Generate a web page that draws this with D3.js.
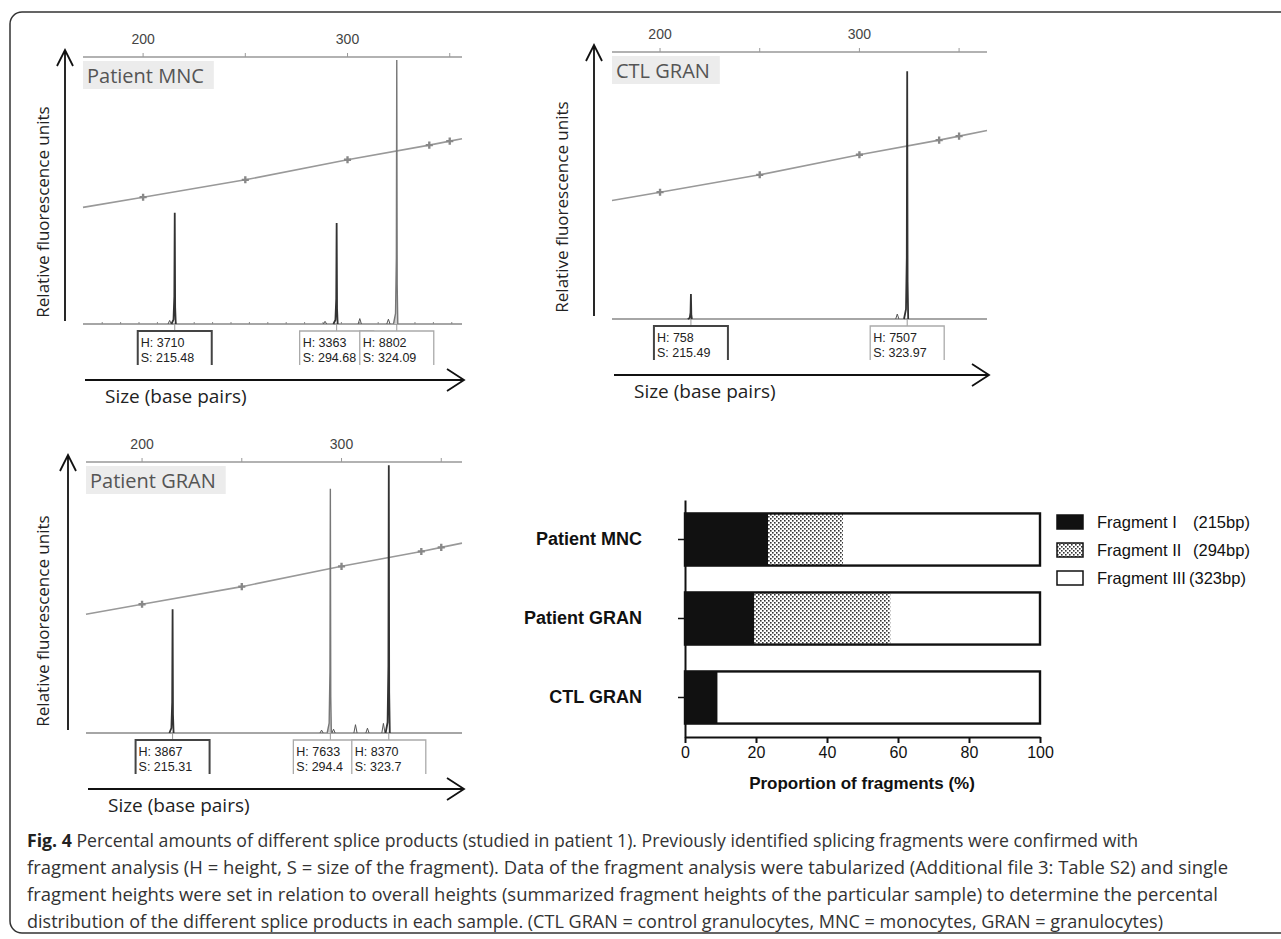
<!DOCTYPE html>
<html>
<head>
<meta charset="utf-8">
<script src="https://d3js.org/d3.v7.min.js"></script>
<style>
  body { margin: 0; background: #fff; }
  svg { display: block; }
</style>
</head>
<body>
<div id="fig"></div>
<script>
// fragment analysis panels
const panelNames = ["Patient MNC", "CTL GRAN", "Patient GRAN"];
const peakSizes = [[215.48, 294.68, 324.09], [215.49, 323.97], [215.31, 294.4, 323.7]];
const peakHeights = [[3710, 3363, 8802], [758, 7507], [3867, 7633, 8370]];
const peakSizeLabels = [["215.48", "294.68", "324.09"], ["215.49", "323.97"], ["215.31", "294.4", "323.7"]];
const minorSizes = [[213, 289, 306, 320], [319], [290, 296, 307, 313, 321]];
const minorHeights = [[120, 90, 180, 160], [150], [90, 120, 260, 150, 300]];
const sizeStdBp = [200, 250, 300, 340, 350];
const sizeStdLevel = [0.475, 0.54, 0.615, 0.67, 0.685];
const sizeTicks = [200, 250, 300, 350];
const sizeTickLabels = [200, 300];

// stacked bar chart
const samples = ["Patient MNC", "Patient GRAN", "CTL GRAN"];
const fragmentNames = ["Fragment I", "Fragment II", "Fragment III"];
const fragmentBp = ["(215bp)", "(294bp)", "(323bp)"];
const fragI = [23.4, 19.5, 9.2];
const fragII = [21.1, 38.4, 0];
const fragIII = [55.5, 42.1, 90.8];
const pctTicks = [0, 20, 40, 60, 80, 100];

const captionLines = [
    "Percental amounts of different splice products (studied in patient 1). Previously identified splicing fragments were confirmed with",
    "fragment analysis (H = height, S = size of the fragment). Data of the fragment analysis were tabularized (Additional file 3: Table S2) and single",
    "fragment heights were set in relation to overall heights (summarized fragment heights of the particular sample) to determine the percental",
    "distribution of the different splice products in each sample. (CTL GRAN = control granulocytes, MNC = monocytes, GRAN = granulocytes)"
];
const captionWidths = [1111, 1201, 1191, 1136];

const WIDTH = 1281;
const HEIGHT = 939;
const SANS = "'Open Sans', 'Noto Sans', sans-serif";
const ARIAL = "'Liberation Sans', Arial, sans-serif";

const svg = d3.select("#fig")
    .append("svg")
    .attr("width", WIDTH)
    .attr("height", HEIGHT);

svg.append("path")
    .attr("d", "M1281,12 H22 A12,12 0 0 0 10,24 V921 A12,12 0 0 0 22,933 H1281")
    .attr("fill", "none")
    .attr("stroke", "#333")
    .attr("stroke-width", 1.5);

const defs = svg.append("defs");
const dots = defs.append("pattern")
    .attr("id", "dots")
    .attr("patternUnits", "userSpaceOnUse")
    .attr("width", 4)
    .attr("height", 4);
dots.append("rect").attr("width", 4).attr("height", 4).attr("fill", "#fff");
dots.append("rect").attr("x", 0).attr("y", 0).attr("width", 1.6).attr("height", 1.6).attr("fill", "#333");
dots.append("rect").attr("x", 2).attr("y", 2).attr("width", 1.6).attr("height", 1.6).attr("fill", "#333");

// ---- electropherograms ----
const panels = [
    { left: 83, right: 462, top: 57, base: 324, domain: [170.6, 356], rfuMax: 8900, minorTicks: true, labelX: 43 },
    { left: 612, right: 987, top: 52, base: 319, domain: [175.9, 364], rfuMax: 8090, minorTicks: false, labelX: 562 },
    { left: 86, right: 462, top: 462, base: 733, domain: [171.9, 360.4], rfuMax: 8470, minorTicks: false, labelX: 43 }
];
const lightPeaks = new Set(["0-2", "2-1"]);
const stdLevel = d3.scaleLinear().domain(sizeStdBp).range(sizeStdLevel);

panels.forEach((p, pi) => {
    const g = svg.append("g");
    const x = d3.scaleLinear().domain(p.domain).range([p.left, p.right]);
    const y = d3.scaleLinear().domain([0, p.rfuMax]).range([p.base, p.top]);
    const yStd = d3.scaleLinear().domain([0, 1]).range([p.base, p.top]);

    // top size axis
    g.append("line")
        .attr("x1", p.left).attr("x2", p.right)
        .attr("y1", p.top).attr("y2", p.top)
        .attr("stroke", "#999").attr("stroke-width", 1.3);
    g.selectAll(".stick")
        .data(sizeTicks)
        .join("line")
        .attr("x1", d => x(d)).attr("x2", d => x(d))
        .attr("y1", p.top - 4).attr("y2", p.top)
        .attr("stroke", "#999");
    g.selectAll(".slabel")
        .data(sizeTickLabels)
        .join("text")
        .attr("x", d => x(d))
        .attr("y", p.top - 13)
        .attr("text-anchor", "middle")
        .attr("font-family", ARIAL)
        .attr("font-size", 14)
        .attr("fill", "#444")
        .text(d => d);

    // baseline
    g.append("line")
        .attr("x1", p.left).attr("x2", p.right)
        .attr("y1", p.base).attr("y2", p.base)
        .attr("stroke", "#888").attr("stroke-width", 1.3);
    if (p.minorTicks) {
        g.selectAll(".mtick")
            .data(d3.range(180, 356, 9))
            .join("line")
            .attr("x1", d => x(d)).attr("x2", d => x(d))
            .attr("y1", p.base - 2).attr("y2", p.base)
            .attr("stroke", "#888");
    }

    // size standard curve
    const stdPts = [p.domain[0], ...sizeStdBp, p.domain[1]];
    g.append("path")
        .attr("d", d3.line().x(d => x(d)).y(d => yStd(stdLevel(d)))(stdPts))
        .attr("fill", "none")
        .attr("stroke", "#999")
        .attr("stroke-width", 1.6);
    g.selectAll(".std")
        .data(sizeStdBp)
        .join("path")
        .attr("transform", d => `translate(${x(d)},${yStd(stdLevel(d))})`)
        .attr("d", d3.symbol(d3.symbolCross, 28))
        .attr("fill", "#888");

    // sample label
    const lab = g.append("g");
    const labRect = lab.append("rect")
        .attr("x", p.left).attr("y", p.top + 4)
        .attr("height", 28)
        .attr("fill", "#ececec");
    const labText = lab.append("text")
        .attr("x", p.left + 4)
        .attr("y", p.top + 26)
        .attr("font-family", SANS)
        .attr("font-size", 20)
        .attr("fill", "#555")
        .text(panelNames[pi]);
    labRect.attr("width", labText.node().getComputedTextLength() + 14);

    // small noise peaks
    const peakLine = d3.line().x(d => x(d[0])).y(d => y(d[1]));
    minorSizes[pi].forEach((s, i) => {
        const h = minorHeights[pi][i];
        g.append("path")
            .attr("d", peakLine([[s - 0.8, 0], [s, h], [s + 0.8, 0]]))
            .attr("fill", "none")
            .attr("stroke", "#555")
            .attr("stroke-width", 1);
    });

    // peaks
    peakSizes[pi].forEach((s, i) => {
        const h = peakHeights[pi][i];
        const light = lightPeaks.has(pi + "-" + i);
        g.append("path")
            .attr("d", peakLine([[s - 1.6, 0], [s - 0.6, h * 0.04], [s - 0.2, h * 0.25], [s, h], [s + 0.2, h * 0.15], [s + 0.5, 0]]))
            .attr("fill", light ? "#ccc" : "none")
            .attr("stroke", light ? "#777" : "#333")
            .attr("stroke-width", light ? 1.4 : 1.8);
    });

    // peak annotation boxes
    peakSizes[pi].forEach((s, i) => {
        const cx = x(s);
        const bx = cx - 37;
        const by = p.base + 7;
        const box = g.append("g");
        box.append("line")
            .attr("x1", cx).attr("x2", cx)
            .attr("y1", p.base).attr("y2", by)
            .attr("stroke", "#999");
        box.append("rect")
            .attr("x", bx).attr("y", by)
            .attr("width", 74).attr("height", 34)
            .attr("fill", "#fff");
        box.append("path")
            .attr("d", `M${bx},${by + 34} V${by} H${bx + 74} V${by + 34}`)
            .attr("fill", "none")
            .attr("stroke", i === 0 ? "#444" : "#aaa")
            .attr("stroke-width", i === 0 ? 2 : 1.3);
        box.append("text")
            .attr("x", bx + 3).attr("y", by + 16)
            .attr("font-family", ARIAL).attr("font-size", 12.5).attr("fill", "#222")
            .text("H: " + peakHeights[pi][i]);
        box.append("text")
            .attr("x", bx + 3).attr("y", by + 31)
            .attr("font-family", ARIAL).attr("font-size", 12.5).attr("fill", "#222")
            .text("S: " + peakSizeLabels[pi][i]);
    });

    // arrows
    const ax = p.left - 18;
    g.append("path")
        .attr("d", `M${ax},${p.base - 3} V${p.top - 7} M${ax - 8},${p.top + 9} L${ax},${p.top - 7} L${ax + 8},${p.top + 9}`)
        .attr("fill", "none")
        .attr("stroke", "#111")
        .attr("stroke-width", 1.8);
    const ay = p.base + 56;
    g.append("path")
        .attr("d", `M${p.left + 2},${ay} H${p.right + 2} M${p.right - 15},${ay - 11} L${p.right + 2},${ay} L${p.right - 15},${ay + 11}`)
        .attr("fill", "none")
        .attr("stroke", "#111")
        .attr("stroke-width", 1.8);

    g.append("text")
        .attr("x", p.left + 22)
        .attr("y", p.base + 79)
        .attr("font-family", SANS)
        .attr("font-size", 19)
        .attr("fill", "#222")
        .text("Size (base pairs)");
    g.append("text")
        .attr("transform", `translate(${p.labelX + 6},${p.base - 112}) rotate(-90)`)
        .attr("text-anchor", "middle")
        .attr("font-family", SANS)
        .attr("font-size", 17)
        .attr("fill", "#222")
        .text("Relative fluorescence units");
});

// ---- stacked bars ----
const bx = d3.scaleLinear().domain([0, 100]).range([685, 1040]);
const by = d3.scaleBand().domain(samples).range([500, 737]).paddingInner(0.34).paddingOuter(0.17);
const rows = samples.map((s, i) => ({ sample: s, 0: fragI[i], 1: fragII[i], 2: fragIII[i] }));
const series = d3.stack().keys([0, 1, 2])(rows);
const fills = ["#111", "url(#dots)", "#fff"];

const bars = svg.append("g");
bars.selectAll("g")
    .data(series)
    .join("g")
    .attr("fill", (d, i) => fills[i])
    .selectAll("rect")
    .data(d => d)
    .join("rect")
    .attr("x", d => bx(d[0]))
    .attr("width", d => bx(d[1]) - bx(d[0]))
    .attr("y", d => by(d.data.sample))
    .attr("height", by.bandwidth());
bars.selectAll(".outline")
    .data(samples)
    .join("rect")
    .attr("x", bx(0))
    .attr("width", bx(100) - bx(0))
    .attr("y", d => by(d))
    .attr("height", by.bandwidth())
    .attr("fill", "none")
    .attr("stroke", "#111")
    .attr("stroke-width", 2.4);

const xAxis = svg.append("g")
    .attr("transform", "translate(0,737)")
    .call(d3.axisBottom(bx).tickValues(pctTicks).tickSize(6).tickSizeOuter(0).tickPadding(4));
xAxis.select(".domain").attr("stroke", "#111").attr("stroke-width", 2);
xAxis.selectAll(".tick line").attr("stroke", "#111").attr("stroke-width", 2);
xAxis.selectAll("text").attr("font-family", ARIAL).attr("font-size", 16).attr("fill", "#111");

const yAxis = svg.append("g")
    .attr("transform", "translate(685,0)")
    .call(d3.axisLeft(by).tickSize(7).tickSizeOuter(0).tickPadding(36));
yAxis.select(".domain").attr("stroke", "#111").attr("stroke-width", 2);
yAxis.selectAll(".tick line").attr("stroke", "#111").attr("stroke-width", 1.5);
yAxis.selectAll("text")
    .attr("font-family", ARIAL)
    .attr("font-size", 18)
    .attr("font-weight", "bold")
    .attr("fill", "#111");

svg.append("text")
    .attr("x", 862)
    .attr("y", 789)
    .attr("text-anchor", "middle")
    .attr("font-family", ARIAL)
    .attr("font-size", 17)
    .attr("font-weight", "bold")
    .attr("fill", "#111")
    .text("Proportion of fragments (%)");

const legend = svg.append("g")
    .selectAll("g")
    .data(fragmentNames)
    .join("g")
    .attr("transform", (d, i) => `translate(1057,${522 + i * 28})`);
legend.append("rect")
    .attr("y", -7).attr("width", 26).attr("height", 14)
    .attr("fill", (d, i) => fills[i])
    .attr("stroke", "#111").attr("stroke-width", 1.5);
legend.append("text")
    .attr("x", 40).attr("dy", "0.35em")
    .attr("font-family", ARIAL).attr("font-size", 16.5).attr("fill", "#111")
    .text(d => d);
legend.append("text")
    .attr("x", (d, i) => i === 2 ? 132 : 136).attr("dy", "0.35em")
    .attr("font-family", ARIAL).attr("font-size", 16.5).attr("fill", "#111")
    .text((d, i) => fragmentBp[i]);

// ---- caption ----
const cap = svg.append("g")
    .attr("font-family", SANS)
    .attr("font-size", 17.5)
    .attr("fill", "#333");
captionLines.forEach((line, i) => {
    const t = cap.append("text")
        .attr("x", 27)
        .attr("y", 847 + i * 27)
        .attr("textLength", captionWidths[i])
        .attr("lengthAdjust", "spacingAndGlyphs");
    if (i === 0) {
        t.append("tspan").attr("font-weight", "bold").attr("fill", "#222").text("Fig. 4 ");
    }
    t.append("tspan").text(line);
});
</script>
</body>
</html>
